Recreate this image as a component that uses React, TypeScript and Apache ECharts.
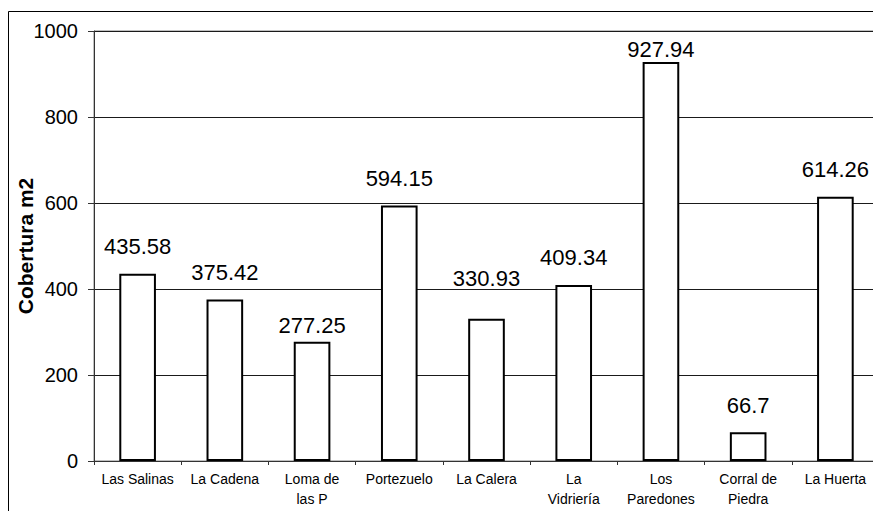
import React, { useEffect, useRef } from "react";
import * as echarts from "echarts";

// Site names along the category axis (line breaks where the labels wrap)
const categories: string[] = [
  "Las Salinas",
  "La Cadena",
  "Loma de\nlas P",
  "Portezuelo",
  "La Calera",
  "La\nVidriería",
  "Los\nParedones",
  "Corral de\nPiedra",
  "La Huerta",
];

// Cover area per site, in m2
const cobertura: number[] = [435.58, 375.42, 277.25, 594.15, 330.93, 409.34, 927.94, 66.7, 614.26];

// Value axis ticks
const yTicks: number[] = [0, 200, 400, 600, 800, 1000];

const FONT = "'Liberation Sans', Arial, sans-serif";

export default function App() {
  const ref = useRef<HTMLDivElement | null>(null);

  useEffect(() => {
    if (!ref.current) return;
    const chart = echarts.init(ref.current, null, { renderer: "svg" });

    // value labels sit at a common height above each bar, a few are nudged
    const labelDistance = (i: number): number => {
      if (i === 2) return 5;
      if (i === 4) return 29;
      if (i === 6) return 1;
      return 16;
    };

    chart.setOption({
      animation: false,
      backgroundColor: "#ffffff",
      graphic: [
        {
          type: "rect",
          z: -10,
          shape: { x: 0.5, y: 3.5, width: 2000, height: 2000 },
          style: { fill: "none", stroke: "#000000", lineWidth: 1 },
        },
      ],
      grid: {
        left: 86,
        top: 23,
        right: 2,
        bottom: 50,
        containLabel: false,
        outerBoundsMode: "none",
        show: true,
        borderColor: "#808080",
        borderWidth: 1,
        backgroundColor: "transparent",
      },
      xAxis: {
        type: "category",
        data: categories,
        axisLine: { show: true, lineStyle: { color: "#333333", width: 1 } },
        axisTick: {
          show: true,
          alignWithLabel: false,
          length: 4,
          lineStyle: { color: "#333333" },
        },
        axisLabel: {
          interval: 0,
          margin: 8,
          fontFamily: FONT,
          fontSize: 14,
          lineHeight: 20,
          color: "#000000",
        },
        splitLine: { show: false },
      },
      yAxis: {
        type: "value",
        min: yTicks[0],
        max: yTicks[yTicks.length - 1],
        interval: yTicks[1] - yTicks[0],
        name: "Cobertura m2",
        nameLocation: "middle",
        nameGap: 58,
        nameMoveOverlap: false,
        nameTextStyle: {
          fontFamily: FONT,
          fontSize: 21,
          fontWeight: "bold",
          color: "#000000",
        },
        axisLine: { show: true, lineStyle: { color: "#333333", width: 1 } },
        axisTick: { show: true, length: 6, lineStyle: { color: "#333333" } },
        axisLabel: {
          margin: 16,
          fontFamily: FONT,
          fontSize: 20,
          color: "#000000",
          formatter: (v: number) => String(v),
        },
        splitLine: { show: true, lineStyle: { color: "#1a1a1a", width: 1 } },
      },
      series: [
        {
          type: "bar",
          barWidth: "42%",
          data: cobertura.map((v, i) => ({
            value: v,
            label: { distance: labelDistance(i) },
          })),
          itemStyle: {
            color: "#ffffff",
            borderColor: "#000000",
            borderWidth: 2,
          },
          label: {
            show: true,
            position: "top",
            fontFamily: FONT,
            fontSize: 22,
            color: "#000000",
            formatter: (p: { value: number }) => String(p.value),
          },
        },
      ],
    });

    return () => chart.dispose();
  }, []);

  return <div ref={ref} style={{ width: 873, height: 503 }} />;
}
